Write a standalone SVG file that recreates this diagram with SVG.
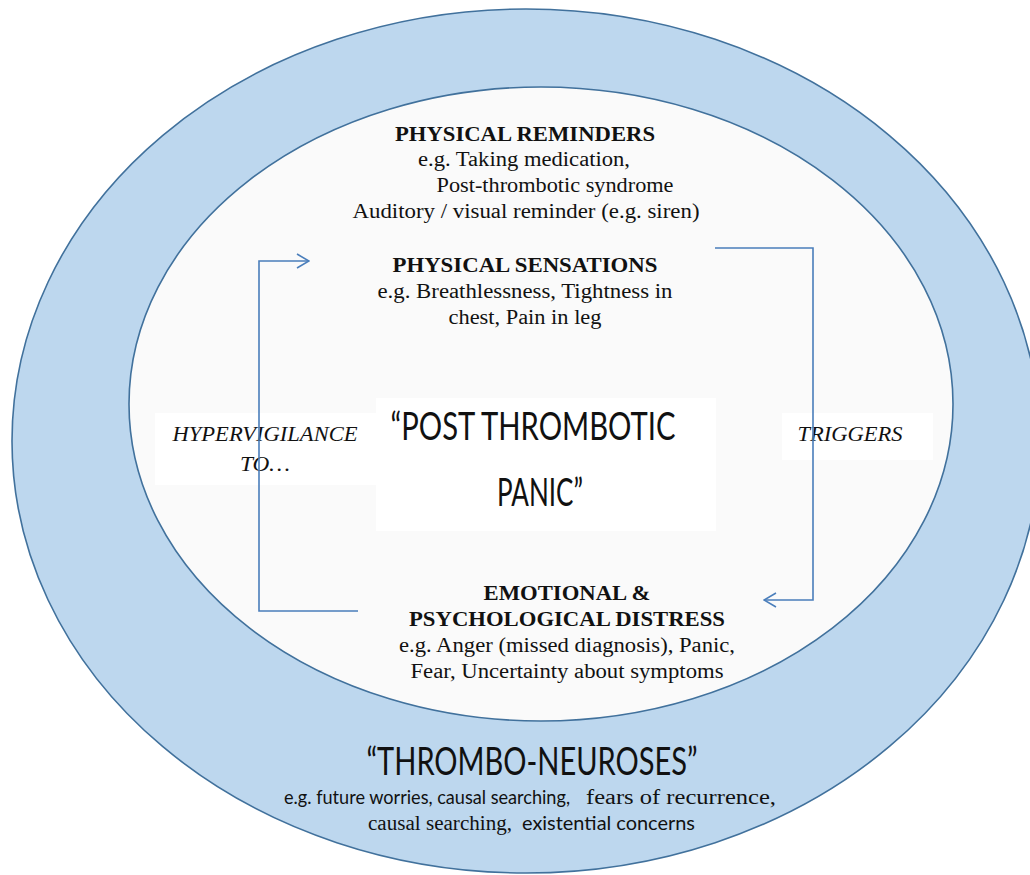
<svg xmlns="http://www.w3.org/2000/svg" width="1030" height="875" viewBox="0 0 1030 875">
  <style>
    .ring { fill: #bdd7ee; stroke: #41719c; stroke-width: 1.6; }
    .core { fill: #fafafa; stroke: #41719c; stroke-width: 1.6; }
    .box { fill: #ffffff; stroke: none; }
    .serif { font-family: "Liberation Serif", "Times New Roman", serif; font-size: 20px; fill: #111; }
    .bold { font-weight: bold; }
    .ital { font-style: italic; }
    .sans { font-family: Lato, "Liberation Sans", Arial, sans-serif; fill: #111; }
    .conn { fill: none; stroke: #4a7ebb; stroke-width: 1.6; }
    .head { fill: none; stroke: #4a7ebb; stroke-width: 1.6; }
  </style>
  <defs>
    <marker id="arrow" viewBox="0 0 14 16" refX="13" refY="8" markerWidth="14" markerHeight="16" markerUnits="userSpaceOnUse" orient="auto">
      <path class="head" d="M1,1 L13,8 L1,15"/>
    </marker>
  </defs>
  <rect x="0" y="0" width="1030" height="875" fill="#ffffff"/>

  <g id="thrombo-neuroses">
    <ellipse class="ring" cx="526" cy="441" rx="514" ry="432"/>
    <text class="sans" x="532" y="775" text-anchor="middle" font-size="38" textLength="331" lengthAdjust="spacingAndGlyphs">“THROMBO-NEUROSES”</text>
    <text class="sans" x="284" y="804" font-size="20" textLength="286" lengthAdjust="spacingAndGlyphs">e.g. future worries, causal searching,</text>
    <text class="serif" x="586" y="804" textLength="190" lengthAdjust="spacingAndGlyphs">fears of recurrence,</text>
    <text class="serif" x="368" y="830" textLength="144" lengthAdjust="spacingAndGlyphs">causal searching,</text>
    <text class="sans" x="522" y="830" font-size="20" textLength="173" lengthAdjust="spacingAndGlyphs">existential concerns</text>
  </g>

  <g id="inner-circle">
    <ellipse class="core" cx="541" cy="404" rx="412" ry="317"/>
  </g>

  <g id="physical-reminders">
    <text class="serif bold" x="525" y="141" text-anchor="middle" textLength="260" lengthAdjust="spacingAndGlyphs">PHYSICAL REMINDERS</text>
    <text class="serif" x="524" y="166" text-anchor="middle" textLength="212" lengthAdjust="spacingAndGlyphs">e.g. Taking medication,</text>
    <text class="serif" x="555" y="192" text-anchor="middle" textLength="237" lengthAdjust="spacingAndGlyphs">Post-thrombotic syndrome</text>
    <text class="serif" x="526" y="218" text-anchor="middle" textLength="347" lengthAdjust="spacingAndGlyphs">Auditory / visual reminder (e.g. siren)</text>
  </g>

  <g id="physical-sensations">
    <text class="serif bold" x="525" y="272" text-anchor="middle" textLength="265" lengthAdjust="spacingAndGlyphs">PHYSICAL SENSATIONS</text>
    <text class="serif" x="525" y="298" text-anchor="middle" textLength="295" lengthAdjust="spacingAndGlyphs">e.g. Breathlessness, Tightness in</text>
    <text class="serif" x="525" y="324" text-anchor="middle" textLength="153" lengthAdjust="spacingAndGlyphs">chest, Pain in leg</text>
  </g>

  <g id="hypervigilance">
    <rect class="box" x="155" y="413" width="222" height="72"/>
    <text class="serif ital" x="265" y="441" text-anchor="middle" textLength="185" lengthAdjust="spacingAndGlyphs">HYPERVIGILANCE</text>
    <text class="serif ital" x="265" y="471" text-anchor="middle" textLength="50" lengthAdjust="spacingAndGlyphs">TO…</text>
  </g>

  <g id="triggers">
    <rect class="box" x="782" y="413" width="151" height="47"/>
    <text class="serif ital" x="850" y="441" text-anchor="middle" textLength="105" lengthAdjust="spacingAndGlyphs">TRIGGERS</text>
  </g>

  <g id="connectors">
    <path class="conn" d="M358,611 H259 V261 H309" marker-end="url(#arrow)"/>
    <path class="conn" d="M715,248 H813 V600 H764" marker-end="url(#arrow)"/>
  </g>

  <g id="post-thrombotic-panic">
    <rect class="box" x="376" y="398" width="340" height="133"/>
    <text class="sans" x="533" y="440" text-anchor="middle" font-size="39" textLength="285" lengthAdjust="spacingAndGlyphs">“POST THROMBOTIC</text>
    <text class="sans" x="540" y="506" text-anchor="middle" font-size="39" textLength="86" lengthAdjust="spacingAndGlyphs">PANIC”</text>
  </g>

  <g id="emotional-distress">
    <text class="serif bold" x="567" y="600" text-anchor="middle" textLength="167" lengthAdjust="spacingAndGlyphs">EMOTIONAL &amp;</text>
    <text class="serif bold" x="567" y="626" text-anchor="middle" textLength="316" lengthAdjust="spacingAndGlyphs">PSYCHOLOGICAL DISTRESS</text>
    <text class="serif" x="567" y="652" text-anchor="middle" textLength="336" lengthAdjust="spacingAndGlyphs">e.g. Anger (missed diagnosis), Panic,</text>
    <text class="serif" x="567" y="678" text-anchor="middle" textLength="313" lengthAdjust="spacingAndGlyphs">Fear, Uncertainty about symptoms</text>
  </g>
</svg>
